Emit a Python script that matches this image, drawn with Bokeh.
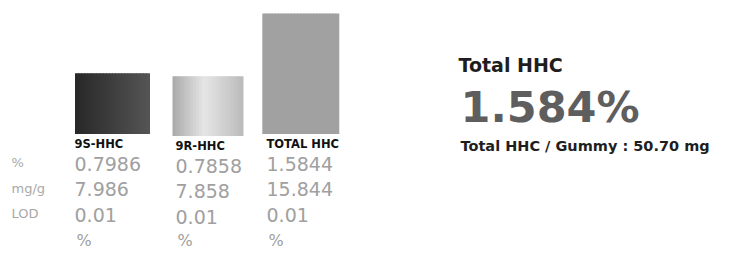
from bokeh.plotting import figure
from bokeh.models import Range1d, Label
from bokeh.embed import file_html
from bokeh.resources import INLINE

# ---- data ----
analytes = ["9S-HHC", "9R-HHC", "TOTAL HHC"]
pct_values = [0.7986, 0.7858, 1.5844]
mgg_values = [7.986, 7.858, 15.844]
lod_values = [0.01, 0.01, 0.01]
row_labels = ["%", "mg/g", "LOD"]
total_label = "Total HHC"
per_gummy_mg = 50.70

W, H = 735, 261
BASE = 127.5      # px from bottom where bars start
SCALE = 76.0      # px per percent unit

p = figure(width=W, height=H, output_backend="svg", toolbar_location=None,
           x_range=Range1d(0, W), y_range=Range1d(-BASE / SCALE, (H - BASE) / SCALE),
           min_border=0)
p.axis.visible = False
p.grid.visible = False
p.outline_line_color = None
p.background_fill_color = "white"
p.border_fill_color = "white"

# bar layout
centers = [112, 207.5, 300.3]
widths = [74, 70, 76]
y_shift = [0, -2, 0]

def hexg(v):
    v = int(max(0, min(255, v)))
    return "#%02x%02x%02x" % (v, v, v)

def prof_dark(t):
    return 40 + 45 * t

def prof_light(t):
    if t < 0.45:
        return 170 + (230 - 170) * (t / 0.45)
    return 230 - (230 - 188) * ((t - 0.45) / 0.55)

def prof_flat(t):
    return 161

profiles = [prof_dark, prof_light, prof_flat]

N = 24
for i, v in enumerate(pct_values):
    w = widths[i]
    sw = w / N
    xs, cols = [], []
    for k in range(N):
        t = (k + 0.5) / N
        xs.append(centers[i] - w / 2 + sw * (k + 0.5))
        cols.append(hexg(profiles[i](t)))
    bottom = y_shift[i] / SCALE
    p.vbar(x=xs, width=sw + 1.0, top=[v + bottom] * N, bottom=bottom,
           fill_color=cols, line_color=None)

FONT = "DejaVu Sans"
K = 0.44  # baseline correction factor

def lab(x, base_y, text, size, color, bold=False):
    # base_y: page-pixel baseline measured from the top
    p.add_layout(Label(x=x, y=H - base_y + K * size, x_units="screen", y_units="screen",
                       text=text, text_font=FONT, text_font_size=f"{size}px",
                       text_font_style="bold" if bold else "normal",
                       text_color=color, text_baseline="alphabetic", text_align="left"))

col_x = [74, 175, 266]
col_dy = [0, 2, 0]
# headers
for i, name in enumerate(analytes):
    lab(col_x[i], 149 + col_dy[i], name, 11.5, "#111111", bold=True)

# row labels
label_base = [168, 194, 219]
for lbl, y in zip(row_labels, label_base):
    lab(11, y, lbl, 13, "#a8a8a8")

# values
row_base = [172, 197, 222.5]
VC = "#a0a0a0"
for i in range(3):
    d = col_dy[i]
    lab(col_x[i], row_base[0] + d, f"{pct_values[i]:.4f}", 19, VC)
    lab(col_x[i], row_base[1] + d, f"{mgg_values[i]:.3f}", 19, VC)
    lab(col_x[i], row_base[2] + d, f"{lod_values[i]:.2f}", 19, VC)
    lab(col_x[i] + 2, 247, "%", 16, VC)

# right-hand summary
lab(458, 73, total_label, 19, "#1e1e1e", bold=True)
lab(460, 125, f"{pct_values[2]:.3f}%", 43, "#5e5e5e", bold=True)
lab(460, 152, f"{total_label} / Gummy : {per_gummy_mg:.2f} mg", 14.5, "#1e1e1e", bold=True)

open("out.html", "w").write(file_html(p, INLINE))
